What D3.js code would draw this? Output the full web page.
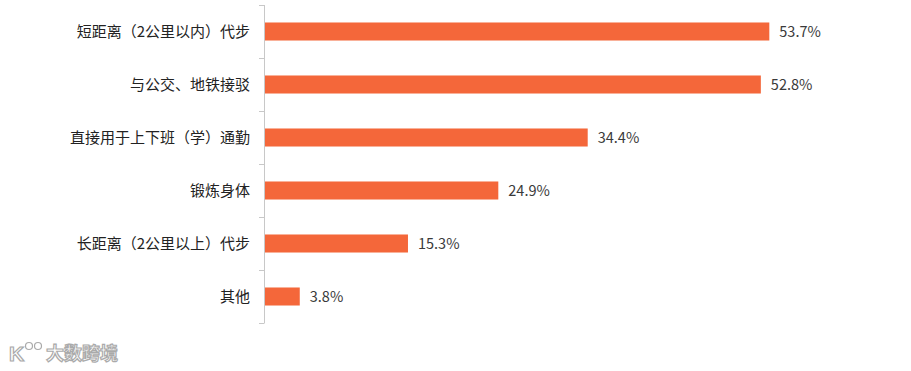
<!DOCTYPE html>
<html>
<head>
<meta charset="utf-8">
<script src="https://cdn.jsdelivr.net/npm/d3@7"></script>
<style>
  body { margin: 0; background: #fff; }
  svg { display: block; }
</style>
</head>
<body>
<div id="chart"></div>
<script>
// data
var categories = ["短距离（2公里以内）代步", "与公交、地铁接驳", "直接用于上下班（学）通勤", "锻炼身体", "长距离（2公里以上）代步", "其他"];
var values = [53.7, 52.8, 34.4, 24.9, 15.3, 3.8];

var width = 911, height = 371;
var axis_x = 264;
var bar_color = "#f4673a";
var font = "'Noto Sans CJK SC', 'Noto Sans', sans-serif";

var svg = d3.select("#chart").append("svg")
    .attr("width", width)
    .attr("height", height);

var x = d3.scaleLinear().domain([0, 60]).range([axis_x, axis_x + 60 * 9.41]);
var y = d3.scaleBand().domain(categories).range([5, 323]).paddingInner(0.66).paddingOuter(0.33);
var band = d3.scaleBand().domain(categories).range([5, 323]); // for tick marks between rows

// axis line + ticks between categories
var axis = svg.append("g").attr("stroke", "#c8c8c8").attr("stroke-width", 1);
axis.append("line")
    .attr("x1", axis_x + 0.5).attr("x2", axis_x + 0.5)
    .attr("y1", 5).attr("y2", 323);
var tick_y = categories.map(function(c) { return band(c); }).concat([323]);
axis.selectAll("line.tick").data(tick_y).enter().append("line")
    .attr("class", "tick")
    .attr("x1", axis_x - 5).attr("x2", axis_x + 0.5)
    .attr("y1", function(d) { return Math.round(d) + 0.5; })
    .attr("y2", function(d) { return Math.round(d) + 0.5; });

// bars
svg.selectAll("rect.bar").data(values).enter().append("rect")
    .attr("class", "bar")
    .attr("x", x(0) + 1)
    .attr("y", function(d, i) { return y(categories[i]); })
    .attr("width", function(d) { return x(d) - x(0) - 1; })
    .attr("height", y.bandwidth())
    .attr("fill", bar_color);

// value labels
svg.selectAll("text.val").data(values).enter().append("text")
    .attr("class", "val")
    .attr("x", function(d) { return x(d) + 10; })
    .attr("y", function(d, i) { return y(categories[i]) + y.bandwidth() / 2; })
    .attr("dy", "0.36em")
    .attr("font-family", font)
    .attr("font-size", 14.5)
    .attr("fill", "#3a3a3a")
    .text(function(d) { return d.toFixed(1) + "%"; });

// category labels
svg.selectAll("text.cat").data(categories).enter().append("text")
    .attr("class", "cat")
    .attr("x", 250)
    .attr("y", function(d) { return y(d) + y.bandwidth() / 2; })
    .attr("dy", "0.36em")
    .attr("text-anchor", "end")
    .attr("font-family", font)
    .attr("font-size", 15)
    .attr("fill", "#222")
    .text(function(d) { return d; });

// watermark bottom left
var wm = svg.append("g").attr("fill", "#fff").attr("stroke", "#aaa").attr("stroke-width", 1.2);
wm.append("text")
    .attr("x", 9).attr("y", 361)
    .attr("font-family", "Arial, sans-serif")
    .attr("font-size", 21)
    .attr("font-weight", "bold")
    .text("K");
wm.append("circle").attr("cx", 29).attr("cy", 346).attr("r", 3.5);
wm.append("circle").attr("cx", 38).attr("cy", 346).attr("r", 3.5);
wm.append("text")
    .attr("x", 46).attr("y", 360)
    .attr("font-family", font)
    .attr("font-size", 18)
    .attr("font-weight", "bold")
    .text("大数跨境");
</script>
</body>
</html>
